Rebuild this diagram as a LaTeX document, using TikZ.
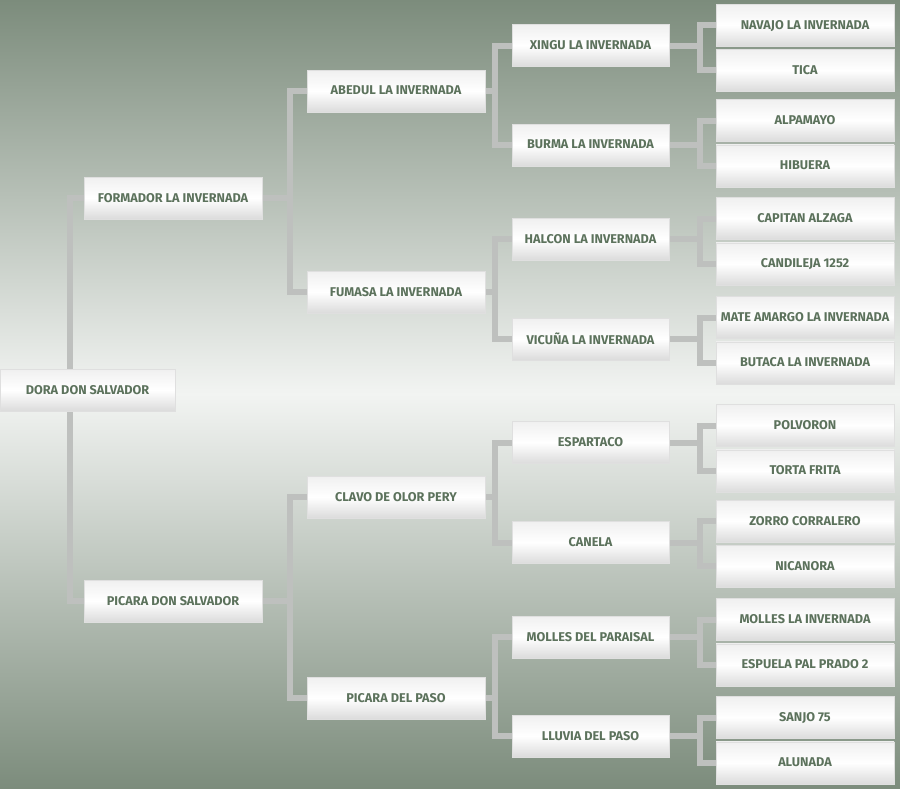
\documentclass[tikz,border=0pt]{standalone}
\usepackage{fontspec}
\setmainfont{Fira Sans}
\usepackage{tikz}
\usetikzlibrary{positioning, backgrounds}
\definecolor{bgdark}{RGB}{124,140,124}
\definecolor{bglight}{RGB}{242,244,242}
\definecolor{namegreen}{RGB}{92,114,92}
\definecolor{linkgray}{RGB}{190,192,190}
\tikzstyle{horse} = [
    rectangle,
    draw = gray!25,
    top color = gray!12,
    bottom color = gray!28,
    middle color = white,
    text = namegreen,
    font = \bfseries\fontsize{12.7}{14}\selectfont,
    text centered,
    text depth = 1pt,
    inner sep = 0pt,
    minimum width = 178pt,
    minimum height = 42pt
]
\tikzstyle{grandsire} = [
    horse,
    minimum width = 157pt
]
\tikzstyle{link} = [
    draw = linkgray,
    line width = 6pt
]

\begin{document}
\begin{tikzpicture}[x = 1pt, y = -1pt]

                \begin{scope}[on background layer]
                    \shade [top color = bgdark, bottom color = bgdark, middle color = bglight] (0,0) rectangle (900,788);
                \end{scope}
                \useasboundingbox (0,0) rectangle (900,788);

                % Generation 0 and 1
                \node [horse, minimum width = 175pt] (dora) at (87.5,390) {DORA DON SALVADOR};
                \node [horse] (formador) at (173,198) {FORMADOR LA INVERNADA};
                \node [horse] (picaraDon) at (173,601) {PICARA DON SALVADOR};

                % Generation 2
                \node [horse] (abedul) at (396,91) {ABEDUL LA INVERNADA};
                \node [horse] (fumasa) at (396,292) {FUMASA LA INVERNADA};
                \node [horse] (clavo) at (396,497) {CLAVO DE OLOR PERY};
                \node [horse] (picaraPaso) at (396,698) {PICARA DEL PASO};

                % Generation 3
                \node [grandsire] (xingu) at (590.5,45.5) {XINGU LA INVERNADA};
                \node [grandsire] (burma) at (590.5,145) {BURMA LA INVERNADA};
                \node [grandsire] (halcon) at (590.5,239) {HALCON LA INVERNADA};
                \node [grandsire] (vicuna) at (590.5,339) {VICUÑA LA INVERNADA};
                \node [grandsire] (espartaco) at (590.5,442.5) {ESPARTACO};
                \node [grandsire] (canela) at (590.5,542.5) {CANELA};
                \node [grandsire] (mollesParaisal) at (590.5,637) {MOLLES DEL PARAISAL};
                \node [grandsire] (lluvia) at (590.5,736) {LLUVIA DEL PASO};

                % Generation 4
                \node [horse] (navajo) at (805,25) {NAVAJO LA INVERNADA};
                \node [horse, below = 3pt of navajo] (tica) {TICA};
                \node [horse] (alpamayo) at (805,120.5) {ALPAMAYO};
                \node [horse, below = 3pt of alpamayo] (hibuera) {HIBUERA};
                \node [horse] (capitan) at (805,218.5) {CAPITAN ALZAGA};
                \node [horse, below = 3pt of capitan] (candileja) {CANDILEJA 1252};
                \node [horse] (mate) at (805,317.5) {MATE AMARGO LA INVERNADA};
                \node [horse, below = 3pt of mate] (butaca) {BUTACA LA INVERNADA};
                \node [horse] (polvoron) at (805,425.5) {POLVORON};
                \node [horse, below = 3pt of polvoron] (torta) {TORTA FRITA};
                \node [horse] (zorro) at (805,521) {ZORRO CORRALERO};
                \node [horse, below = 3pt of zorro] (nicanora) {NICANORA};
                \node [horse] (mollesInv) at (805,619.5) {MOLLES LA INVERNADA};
                \node [horse, below = 3pt of mollesInv] (espuela) {ESPUELA PAL PRADO 2};
                \node [horse] (sanjo) at (805,717.5) {SANJO 75};
                \node [horse, below = 3pt of sanjo] (alunada) {ALUNADA};

                % Links
                \begin{scope}[on background layer]
                    \draw [link] (formador.west) -- ++(-14,0) |- (picaraDon.west);

                    \draw [link] (abedul.west) -- ++(-17,0) coordinate (v1) |- (fumasa.west);
                    \draw [link] (formador.east) -- (v1 |- formador.east);
                    \draw [link] (clavo.west) -- ++(-17,0) coordinate (v2) |- (picaraPaso.west);
                    \draw [link] (picaraDon.east) -- (v2 |- picaraDon.east);

                    \draw [link] (xingu.west) -- ++(-17,0) coordinate (v11) |- (burma.west);
                    \draw [link] (abedul.east) -- (v11 |- abedul.east);
                    \draw [link] (halcon.west) -- ++(-17,0) coordinate (v12) |- (vicuna.west);
                    \draw [link] (fumasa.east) -- (v12 |- fumasa.east);
                    \draw [link] (espartaco.west) -- ++(-17,0) coordinate (v21) |- (canela.west);
                    \draw [link] (clavo.east) -- (v21 |- clavo.east);
                    \draw [link] (mollesParaisal.west) -- ++(-17,0) coordinate (v22) |- (lluvia.west);
                    \draw [link] (picaraPaso.east) -- (v22 |- picaraPaso.east);

                    \draw [link] (navajo.west) -- ++(-16,0) coordinate (w1) |- (tica.west);
                    \draw [link] (xingu.east) -- (w1 |- xingu.east);
                    \draw [link] (alpamayo.west) -- ++(-16,0) coordinate (w2) |- (hibuera.west);
                    \draw [link] (burma.east) -- (w2 |- burma.east);
                    \draw [link] (capitan.west) -- ++(-16,0) coordinate (w3) |- (candileja.west);
                    \draw [link] (halcon.east) -- (w3 |- halcon.east);
                    \draw [link] (mate.west) -- ++(-16,0) coordinate (w4) |- (butaca.west);
                    \draw [link] (vicuna.east) -- (w4 |- vicuna.east);
                    \draw [link] (polvoron.west) -- ++(-16,0) coordinate (w5) |- (torta.west);
                    \draw [link] (espartaco.east) -- (w5 |- espartaco.east);
                    \draw [link] (zorro.west) -- ++(-16,0) coordinate (w6) |- (nicanora.west);
                    \draw [link] (canela.east) -- (w6 |- canela.east);
                    \draw [link] (mollesInv.west) -- ++(-16,0) coordinate (w7) |- (espuela.west);
                    \draw [link] (mollesParaisal.east) -- (w7 |- mollesParaisal.east);
                    \draw [link] (sanjo.west) -- ++(-16,0) coordinate (w8) |- (alunada.west);
                    \draw [link] (lluvia.east) -- (w8 |- lluvia.east);
                \end{scope}

            \end{tikzpicture}
\end{document}
